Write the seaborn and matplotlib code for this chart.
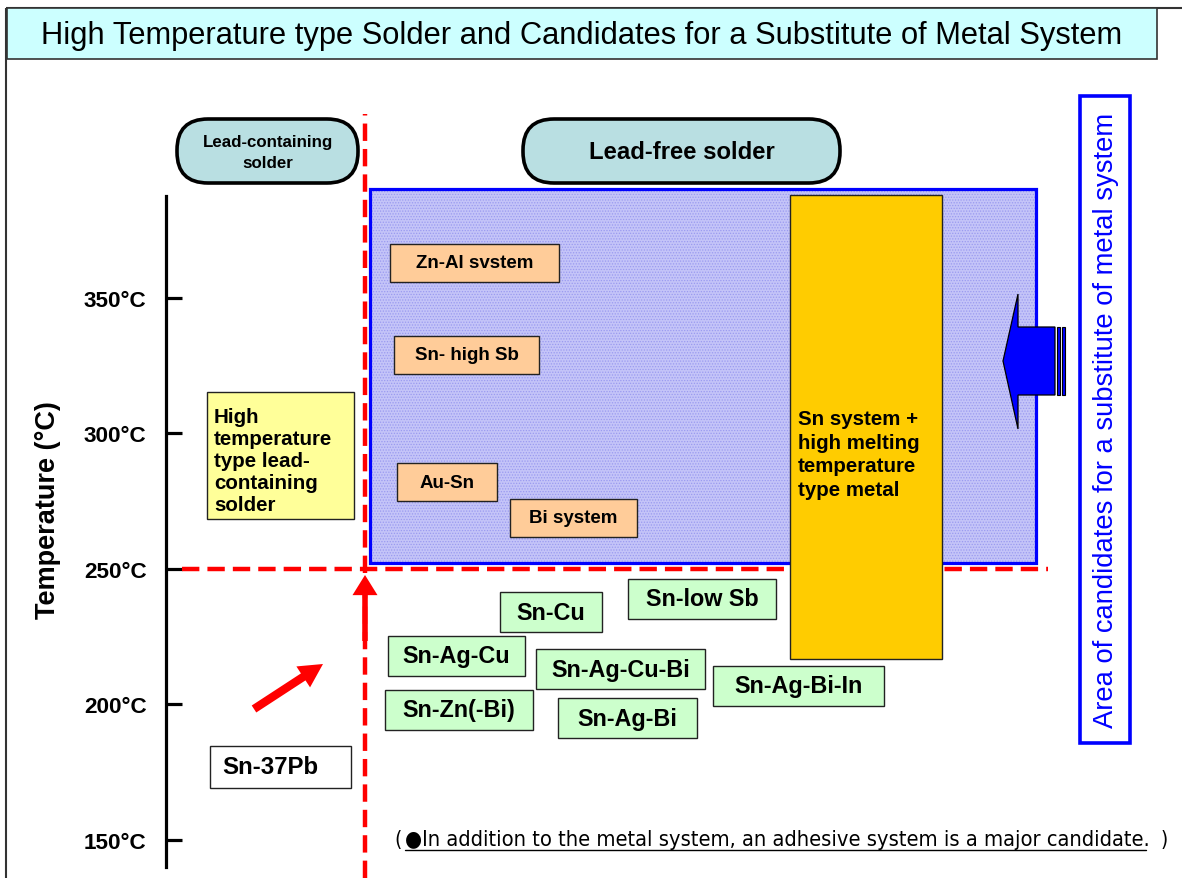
import matplotlib
matplotlib.use("Agg")
import matplotlib.pyplot as plt
from matplotlib.patches import Rectangle, FancyBboxPatch, Polygon, FancyArrowPatch, ArrowStyle
import seaborn as sns

# ---------------- data ----------------
temp_ticks = [150, 200, 250, 300, 350]
tick_labels = ["150°C", "200°C", "250°C", "300°C", "350°C"]
boundary_temp = 250

# lead-free candidates in the high temperature region
high_alloys = ["Zn-Al svstem", "Sn- high Sb", "Au-Sn", "Bi system"]
high_temps = [363, 329, 282, 269]

# lead-free solders below the boundary
low_alloys = ["Sn-low Sb", "Sn-Cu", "Sn-Ag-Cu", "Sn-Ag-Cu-Bi",
              "Sn-Ag-Bi-In", "Sn-Zn(-Bi)", "Sn-Ag-Bi"]
low_temps = [239, 234, 218, 213, 207, 198, 195]

lead_alloy = "Sn-37Pb"
lead_temp = 177
high_lead_label = "High\ntemperature\ntype lead-\ncontaining\nsolder"
high_lead_temp = 292

# ---------------- layout (horizontal positions in canvas pixels) ----------------
high_left = [390, 394, 397, 510]
high_width = [169, 145, 100, 127]
low_left = [628, 500, 388, 536, 713, 385, 558]
low_width = [148, 102, 137, 169, 171, 148, 139]

W, H = 1182, 879
PX_PER_DEG = 2.71
Y_REF = 570          # canvas row of the 250 °C line


def T(py):
    """canvas row -> temperature"""
    return boundary_temp + (Y_REF - py) / PX_PER_DEG


def dT(hpx):
    return hpx / PX_PER_DEG


sns.set_theme(style="white")
plt.rcParams["font.family"] = ["Liberation Sans", "DejaVu Sans"]
plt.rcParams["text.color"] = "black"
plt.rcParams["lines.scale_dashes"] = False

fig = plt.figure(figsize=(W / 100, H / 100), dpi=100)
ax = fig.add_axes([0, 0, 1, 1])
ax.set_xlim(0, W)
ax.set_ylim(T(H), T(0))
ax.set_facecolor("white")
sns.despine(ax=ax, top=True, right=True, bottom=True)

# temperature axis
ax.spines["left"].set_position(("data", 166))
ax.spines["left"].set_bounds(T(868), T(197))
ax.spines["left"].set_linewidth(2.3)
ax.spines["left"].set_color("black")
ax.set_xticks([])
ax.set_yticks(temp_ticks)
ax.set_yticklabels(tick_labels, fontsize=16.2, fontweight="bold", color="black")
ax.tick_params(axis="y", left=True, direction="in", length=11.5, width=2.3,
               pad=14.0, colors="black")
ax.set_ylabel("Temperature (°C)", fontsize=19.5, fontweight="bold", color="black")
ax.yaxis.set_label_coords(61 / W, (H - 510) / H)

# slide frame and title band
ax.plot([6, 6], [T(9), T(H)], color="#333333", lw=1.5, solid_capstyle="butt", zorder=1)
ax.plot([6, W], [T(9), T(9)], color="#333333", lw=1.5, solid_capstyle="butt", zorder=1)
ax.add_patch(Rectangle((7, T(60)), 1150, dT(51), facecolor="#CCFFFF",
                       edgecolor="#333333", lw=1.2, zorder=2))
ax.text(582, T(36), "High Temperature type Solder and Candidates for a Substitute of Metal System",
        ha="center", va="center", fontsize=22.2, zorder=3)

# category headers
for x0, w, label, fs, ls in [(177, 181, "Lead-containing\nsolder", 12.2, 1.45),
                             (523, 317, "Lead-free solder", 17.2, 1.0)]:
    ax.add_patch(FancyBboxPatch((x0, T(184)), w, dT(64),
                                boxstyle="round,pad=0,rounding_size=31",
                                mutation_aspect=1 / PX_PER_DEG,
                                facecolor="#B9DFE2", edgecolor="black", lw=2.6, zorder=3))
    ax.text(x0 + w / 2, T(153), label, ha="center", va="center", fontsize=fs,
            fontweight="bold", linespacing=ls, zorder=4)

# lead-free high temperature region
ax.add_patch(Rectangle((370, T(564)), 666, dT(374), facecolor="#C4C4F8",
                       edgecolor="none", zorder=2))
plt.rcParams["hatch.linewidth"] = 0.6
ax.add_patch(Rectangle((370, T(564)), 666, dT(374), facecolor="none",
                       edgecolor="#9A9AF0", hatch="......", lw=0, zorder=2.1))
ax.add_patch(Rectangle((370, T(564)), 666, dT(374), facecolor="none",
                       edgecolor="#0000FF", lw=2.3, zorder=2.2))

# red boundary lines
dash = (0, (12.5, 5.8))
ax.hlines(boundary_temp, 182, 1048, colors="#FF0000", lw=3.2, linestyles=dash, zorder=2.5)
ax.vlines(365, T(H), T(115), colors="#FF0000", lw=3.2, linestyles=dash, zorder=2.5)

# tall box: Sn system + high melting metal
ax.add_patch(Rectangle((790, T(660)), 152, dT(464), facecolor="#FFCC00",
                       edgecolor="#222222", lw=1.0, zorder=3))
ax.text(798, T(455), "Sn system +\nhigh melting\ntemperature\ntype metal",
        ha="left", va="center", fontsize=14.8, fontweight="bold", linespacing=1.32, zorder=4)

# candidate boxes
def alloy_box(left, width, temp, label, face, hpx, fs, dx=0):
    ax.add_patch(Rectangle((left, temp - dT(hpx) / 2), width, dT(hpx),
                           facecolor=face, edgecolor="#222222", lw=1.0, zorder=5))
    ax.text(left + width / 2 + dx, temp, label, ha="center", va="center",
            fontsize=fs, fontweight="bold", zorder=6)


for lbl, t, x0, w in zip(high_alloys, high_temps, high_left, high_width):
    alloy_box(x0, w, t, lbl, "#FFCC99", 38, 13.5)
for lbl, t, x0, w in zip(low_alloys, low_temps, low_left, low_width):
    alloy_box(x0, w, t, lbl, "#CCFFCC", 40, 16.8)
alloy_box(210, 141, lead_temp, lead_alloy, "white", 42, 17.3, dx=-10)

# high temperature lead-containing solder
ax.add_patch(Rectangle((207, high_lead_temp - dT(127) / 2), 147, dT(127),
                       facecolor="#FFFF99", edgecolor="#222222", lw=1.0, zorder=5))
ax.text(214, high_lead_temp - dT(5), high_lead_label, ha="left", va="center",
        fontsize=14.8, fontweight="bold", linespacing=1.2, zorder=6)

# red arrows
ax.add_patch(FancyArrowPatch((365, T(642)), (365, T(576)),
                             arrowstyle=ArrowStyle.Simple(head_length=14.5, head_width=18, tail_width=4),
                             mutation_scale=1, color="#FF0000", lw=0, shrinkA=0, shrinkB=0, zorder=6))
ax.add_patch(FancyArrowPatch((254, T(710)), (323, T(665)),
                             arrowstyle=ArrowStyle.Simple(head_length=17, head_width=18, tail_width=6),
                             mutation_scale=1, color="#FF0000", lw=0, shrinkA=0, shrinkB=0, zorder=6))

# blue arrow pointing into the candidate region
arrow_px = [(1003, 362), (1018, 295), (1018, 328), (1055, 328),
            (1055, 396), (1018, 396), (1018, 430)]
ax.add_patch(Polygon([(x, T(y)) for x, y in arrow_px], closed=True,
                     facecolor="#0000FF", edgecolor="black", lw=0.9, zorder=6))
for x0, w in [(1056.5, 3), (1061.5, 3.5)]:
    ax.add_patch(Rectangle((x0, T(396)), w, dT(68), facecolor="#0000FF",
                           edgecolor="black", lw=0.8, zorder=6))

# right-hand label box
ax.add_patch(Rectangle((1080, T(744)), 50, dT(647), facecolor="white",
                       edgecolor="#0000FF", lw=2.6, zorder=5))
ax.text(1106, T(420), "Area of candidates for a substitute of metal system",
        rotation=90, ha="center", va="center", fontsize=19.7, color="#0000FF", zorder=6)

# footnote
note_font = dict(family=["DejaVu Sans", "Liberation Sans"], fontstretch="condensed")
note = ax.text(405, T(846), "●In addition to the metal system, an adhesive system is a major candidate.",
               ha="left", va="baseline", fontsize=14, zorder=6, **note_font)
fig.canvas.draw()
rend = fig.canvas.get_renderer()
bb = note.get_window_extent(rend)
note.set_fontsize(14 * 752 / bb.width)
fig.canvas.draw()
bb = note.get_window_extent(rend)
ax.text(402, T(846), "(", ha="right", va="baseline", fontsize=15, zorder=6, **note_font)
ax.text(1161, T(846), ")", ha="left", va="baseline", fontsize=15, zorder=6, **note_font)
ax.plot([405, 405 + bb.width - 4], [T(851), T(851)], color="black", lw=1.0, zorder=6)

fig.savefig("out.png", dpi=100, facecolor="white")
